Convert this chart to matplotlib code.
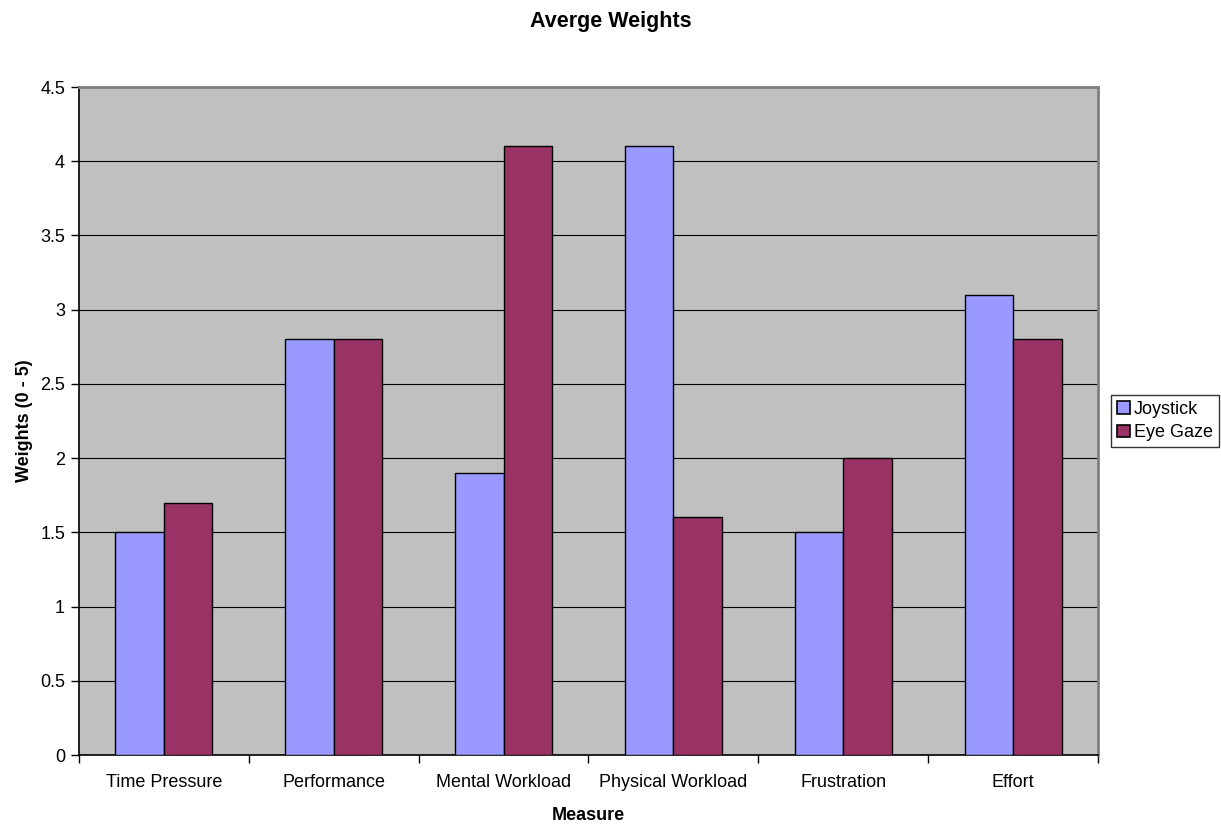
import matplotlib
matplotlib.use("Agg")
import matplotlib.pyplot as plt
import numpy as np
from matplotlib.patches import Patch

plt.rcParams['font.family'] = ['Liberation Sans', 'DejaVu Sans']

categories = ["Time Pressure", "Performance", "Mental Workload",
              "Physical Workload", "Frustration", "Effort"]
joystick = [1.5, 2.8, 1.9, 4.1, 1.5, 3.1]
eye_gaze = [1.7, 2.8, 4.1, 1.6, 2.0, 2.8]
series_names = ["Joystick", "Eye Gaze"]
y_ticks = [0, 0.5, 1, 1.5, 2, 2.5, 3, 3.5, 4, 4.5]

c_joy = "#9999FF"
c_eye = "#993366"

fig = plt.figure(figsize=(12.21, 8.27), dpi=100)
ax = fig.add_axes([79/1221, 1 - 755/827, (1098 - 79)/1221, (755 - 87)/827])
ax.set_facecolor("#C0C0C0")

x = np.arange(len(categories))
w = 0.286
ax.bar(x - w/2, joystick, w, color=c_joy, edgecolor="black", linewidth=1.0, zorder=3)
ax.bar(x + w/2, eye_gaze, w, color=c_eye, edgecolor="black", linewidth=1.0, zorder=3)

ax.set_xlim(-0.5, len(categories) - 0.5)
ax.set_ylim(0, 4.5)
ax.set_yticks(y_ticks)
ax.set_yticklabels([f"{t:g}" for t in y_ticks], fontsize=13)
ax.yaxis.grid(True, color="black", linewidth=0.8, zorder=1)
ax.set_axisbelow(True)

# category labels at centres, tick marks at the boundaries
ax.set_xticks(np.arange(len(categories) + 1) - 0.5)
ax.set_xticklabels([])
ax.set_xticks(x, minor=True)
ax.set_xticklabels(categories, minor=True, fontsize=13)
ax.tick_params(axis="x", which="minor", length=0, pad=14)
ax.tick_params(axis="x", which="major", length=6, width=1, color="black", direction="out")
ax.tick_params(axis="y", length=6, width=1, color="black", direction="out", pad=4)

for s in ["left", "bottom"]:
    ax.spines[s].set_color("black")
    ax.spines[s].set_linewidth(1.2)
for s in ["top", "right"]:
    ax.spines[s].set_color("#808080")
    ax.spines[s].set_linewidth(2)

ax.set_xlabel("Measure", fontsize=13, fontweight="bold", labelpad=11)
ax.set_ylabel("Weights (0 - 5)", fontsize=13, fontweight="bold", labelpad=5)

fig.text(0.5, 1 - 21/827, "Averge Weights", ha="center", va="center",
         fontsize=15.5, fontweight="bold")

handles = [Patch(facecolor=c_joy, edgecolor="black", linewidth=1.2),
           Patch(facecolor=c_eye, edgecolor="black", linewidth=1.2)]
leg = fig.legend(handles, series_names, loc="center left",
                 bbox_to_anchor=(1111/1221, 1 - 421/827), fontsize=13,
                 frameon=True, fancybox=False, borderpad=0.35,
                 handlelength=0.7, handleheight=0.7, handletextpad=0.2,
                 labelspacing=0.35, borderaxespad=0)
leg.get_frame().set_edgecolor("black")
leg.get_frame().set_linewidth(1.0)

fig.savefig("out.png", dpi=100, facecolor="white")
